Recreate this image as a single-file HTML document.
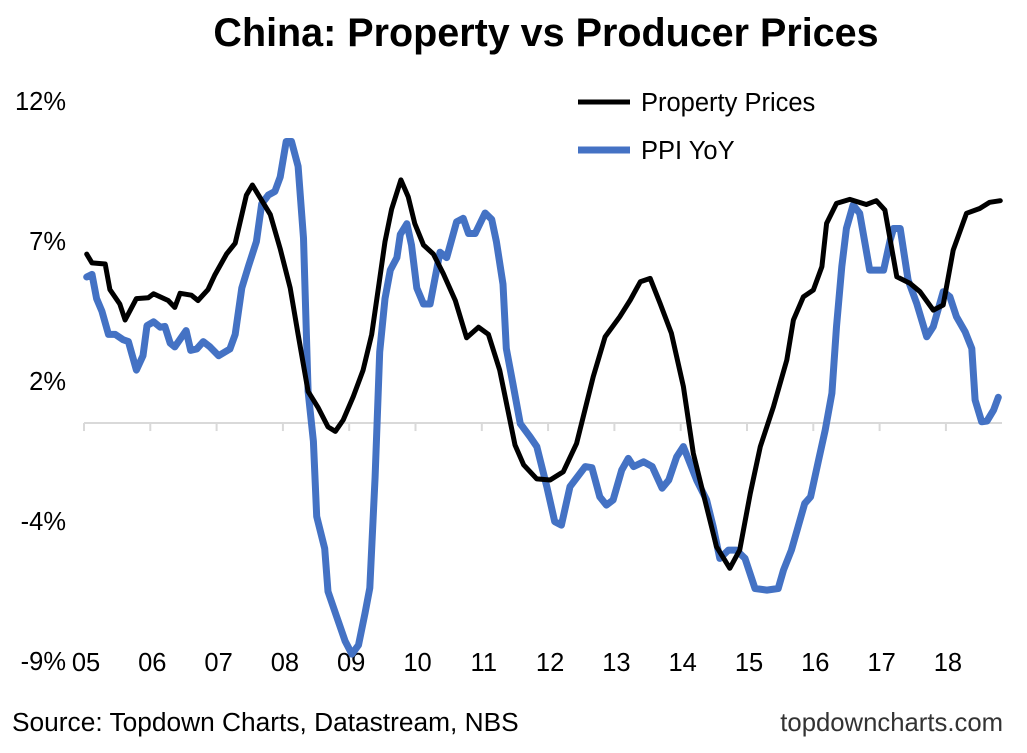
<!DOCTYPE html>
<html><head><meta charset="utf-8"><style>
body{margin:0;background:#fff;}
svg text{font-family:"Liberation Sans",Arial,sans-serif;}
</style></head><body>
<svg id="chart" width="1027" height="748" xmlns="http://www.w3.org/2000/svg">
<rect width="1027" height="748" fill="#fff"/>
<text x="546" y="46" text-anchor="middle" font-size="39.5" font-weight="bold" fill="#000">China: Property vs Producer Prices</text>
<g id="yaxis"></g>
<g id="xaxis"></g>
<g id="series"></g>
<g>
<line x1="578" y1="102" x2="630" y2="102" stroke="#000" stroke-width="5"/>
<text x="641" y="111" font-size="25.5">Property Prices</text>
<line x1="578" y1="150" x2="630" y2="150" stroke="#4472C4" stroke-width="7"/>
<text x="641" y="159" font-size="25.5">PPI YoY</text>
</g>
<text x="12" y="731" font-size="26.3">Source: Topdown Charts, Datastream, NBS</text>
<text x="1003" y="731" font-size="25.7" text-anchor="end" fill="#333">topdowncharts.com</text>
</svg>
<script>
const yTickValues=[12,6.75,1.5,-3.75,-9];
const yTickLabels=["12%","7%","2%","-4%","-9%"];
const xTickYears=[2005,2006,2007,2008,2009,2010,2011,2012,2013,2014,2015,2016,2017,2018];
const xTickLabels=["05","06","07","08","09","10","11","12","13","14","15","16","17","18"];
const propDates=[2005.04,2005.12,2005.32,2005.39,2005.54,2005.62,2005.79,2005.97,2006.05,2006.27,2006.37,2006.45,2006.62,2006.72,2006.87,2006.97,2007.15,2007.28,2007.45,2007.54,2007.81,2007.96,2008.11,2008.23,2008.38,2008.53,2008.68,2008.79,2008.91,2009.06,2009.21,2009.34,2009.44,2009.54,2009.64,2009.78,2009.89,2009.99,2010.12,2010.27,2010.42,2010.6,2010.77,2010.95,2011.1,2011.27,2011.5,2011.63,2011.83,2012.03,2012.23,2012.43,2012.68,2012.86,2013.08,2013.24,2013.39,2013.54,2013.69,2013.86,2014.04,2014.19,2014.34,2014.54,2014.74,2014.89,2015.05,2015.2,2015.4,2015.6,2015.7,2015.85,2016.0,2016.13,2016.2,2016.35,2016.55,2016.8,2016.95,2017.08,2017.26,2017.46,2017.61,2017.81,2017.96,2018.11,2018.31,2018.51,2018.66,2018.82];
const propValues=[6.26,5.93,5.89,4.93,4.39,3.79,4.59,4.62,4.77,4.52,4.26,4.79,4.72,4.52,4.93,5.46,6.26,6.67,8.47,8.85,7.74,6.46,4.99,3.25,1.11,0.51,-0.22,-0.39,0.04,0.91,1.91,3.25,4.99,6.73,7.94,9.04,8.41,7.4,6.6,6.26,5.53,4.52,3.12,3.52,3.25,1.91,-0.9,-1.64,-2.17,-2.21,-1.9,-0.84,1.66,3.16,3.91,4.54,5.22,5.35,4.41,3.29,1.29,-1.21,-2.71,-4.71,-5.52,-4.84,-2.71,-0.96,0.54,2.29,3.79,4.66,4.91,5.79,7.41,8.16,8.31,8.12,8.26,7.91,5.41,5.16,4.85,4.16,4.35,6.41,7.79,7.97,8.2,8.26];
const ppiDates=[2005.04,2005.12,2005.19,2005.27,2005.37,2005.47,2005.59,2005.67,2005.79,2005.89,2005.95,2006.05,2006.15,2006.22,2006.3,2006.37,2006.54,2006.61,2006.7,2006.8,2006.9,2007.03,2007.2,2007.28,2007.38,2007.48,2007.6,2007.68,2007.78,2007.88,2007.96,2008.05,2008.13,2008.23,2008.31,2008.38,2008.46,2008.51,2008.63,2008.68,2008.81,2008.94,2009.04,2009.14,2009.24,2009.31,2009.39,2009.46,2009.54,2009.62,2009.72,2009.77,2009.87,2009.94,2010.02,2010.12,2010.22,2010.37,2010.47,2010.62,2010.72,2010.8,2010.9,2011.05,2011.15,2011.22,2011.32,2011.37,2011.47,2011.58,2011.73,2011.83,2011.98,2012.1,2012.2,2012.33,2012.56,2012.66,2012.78,2012.88,2012.98,2013.11,2013.21,2013.29,2013.44,2013.57,2013.72,2013.82,2013.94,2014.04,2014.24,2014.39,2014.49,2014.59,2014.72,2014.84,2014.97,2015.12,2015.3,2015.47,2015.55,2015.67,2015.77,2015.87,2015.96,2016.08,2016.18,2016.28,2016.35,2016.43,2016.5,2016.6,2016.7,2016.78,2016.85,2017.06,2017.16,2017.21,2017.31,2017.43,2017.56,2017.71,2017.81,2017.96,2018.06,2018.16,2018.29,2018.39,2018.44,2018.54,2018.62,2018.72,2018.79];
const ppiValues=[5.4,5.5,4.59,4.12,3.25,3.25,3.05,2.98,1.91,2.45,3.58,3.72,3.52,3.55,2.92,2.78,3.39,2.65,2.7,2.98,2.78,2.45,2.7,3.25,4.99,5.8,6.73,8.14,8.47,8.61,9.15,10.48,10.48,9.55,6.86,1.11,-0.76,-3.58,-4.78,-6.39,-7.33,-8.26,-8.74,-8.4,-7.19,-6.26,-2.1,2.59,4.59,5.66,6.13,7.0,7.4,6.6,4.99,4.39,4.39,6.33,6.13,7.47,7.6,7.03,7.03,7.8,7.56,6.73,5.13,2.72,1.38,-0.1,-0.6,-0.96,-2.46,-3.77,-3.9,-2.46,-1.71,-1.75,-2.84,-3.15,-2.96,-1.84,-1.4,-1.71,-1.53,-1.71,-2.52,-2.21,-1.34,-0.96,-2.21,-2.96,-3.96,-5.15,-4.84,-4.84,-5.15,-6.28,-6.34,-6.28,-5.59,-4.84,-3.96,-3.09,-2.84,-1.46,-0.34,1.04,3.54,5.79,7.22,8.1,7.79,6.66,5.66,5.66,6.79,7.22,7.22,5.29,4.41,3.16,3.54,4.85,4.66,3.91,3.35,2.72,0.79,-0.03,0.0,0.41,0.89];

const NS="http://www.w3.org/2000/svg";
const X0=84,YEARW=66.3,Y12=101,K=26.67;
function xScale(t){return X0+(t-2005)*YEARW;}
function yScale(v){return Y12+(12-v)*K;}
function mk(tag,attrs,parent){const e=document.createElementNS(NS,tag);for(const k in attrs)e.setAttribute(k,attrs[k]);parent.appendChild(e);return e;}

const yg=document.getElementById('yaxis');
yTickValues.forEach((v,i)=>{
  const t=mk('text',{x:66,y:yScale(v)+9,'text-anchor':'end','font-size':25.5},yg);
  
  
  t.textContent=yTickLabels[i];
});
const xg=document.getElementById('xaxis');
const y0=yScale(0)+2;
const axl=mk('line',{x1:xScale(2005),x2:1002,y1:y0,y2:y0,stroke:'#d9d9d9','stroke-width':2},xg);


xTickYears.forEach((yr,i)=>{
  const tk=mk('line',{x1:xScale(yr),x2:xScale(yr),y1:y0,y2:y0+8,stroke:'#d9d9d9','stroke-width':2},xg);
  
  
  const t=mk('text',{x:xScale(yr)+2,y:671,'text-anchor':'middle','font-size':25.5},xg);
  
  
  t.textContent=xTickLabels[i];
});
const sg=document.getElementById('series');
function pathOf(d,v){return d.map((t,i)=>(i?'L':'M')+xScale(t).toFixed(1)+','+yScale(v[i]).toFixed(1)).join(' ');}
const p1=mk('path',{d:pathOf(ppiDates,ppiValues),fill:'none',stroke:'#4472C4','stroke-width':7,'stroke-linejoin':'round','stroke-linecap':'round'},sg);


const p2=mk('path',{d:pathOf(propDates,propValues),fill:'none',stroke:'#000','stroke-width':5,'stroke-linejoin':'round','stroke-linecap':'round'},sg);


</script>
</body></html>
